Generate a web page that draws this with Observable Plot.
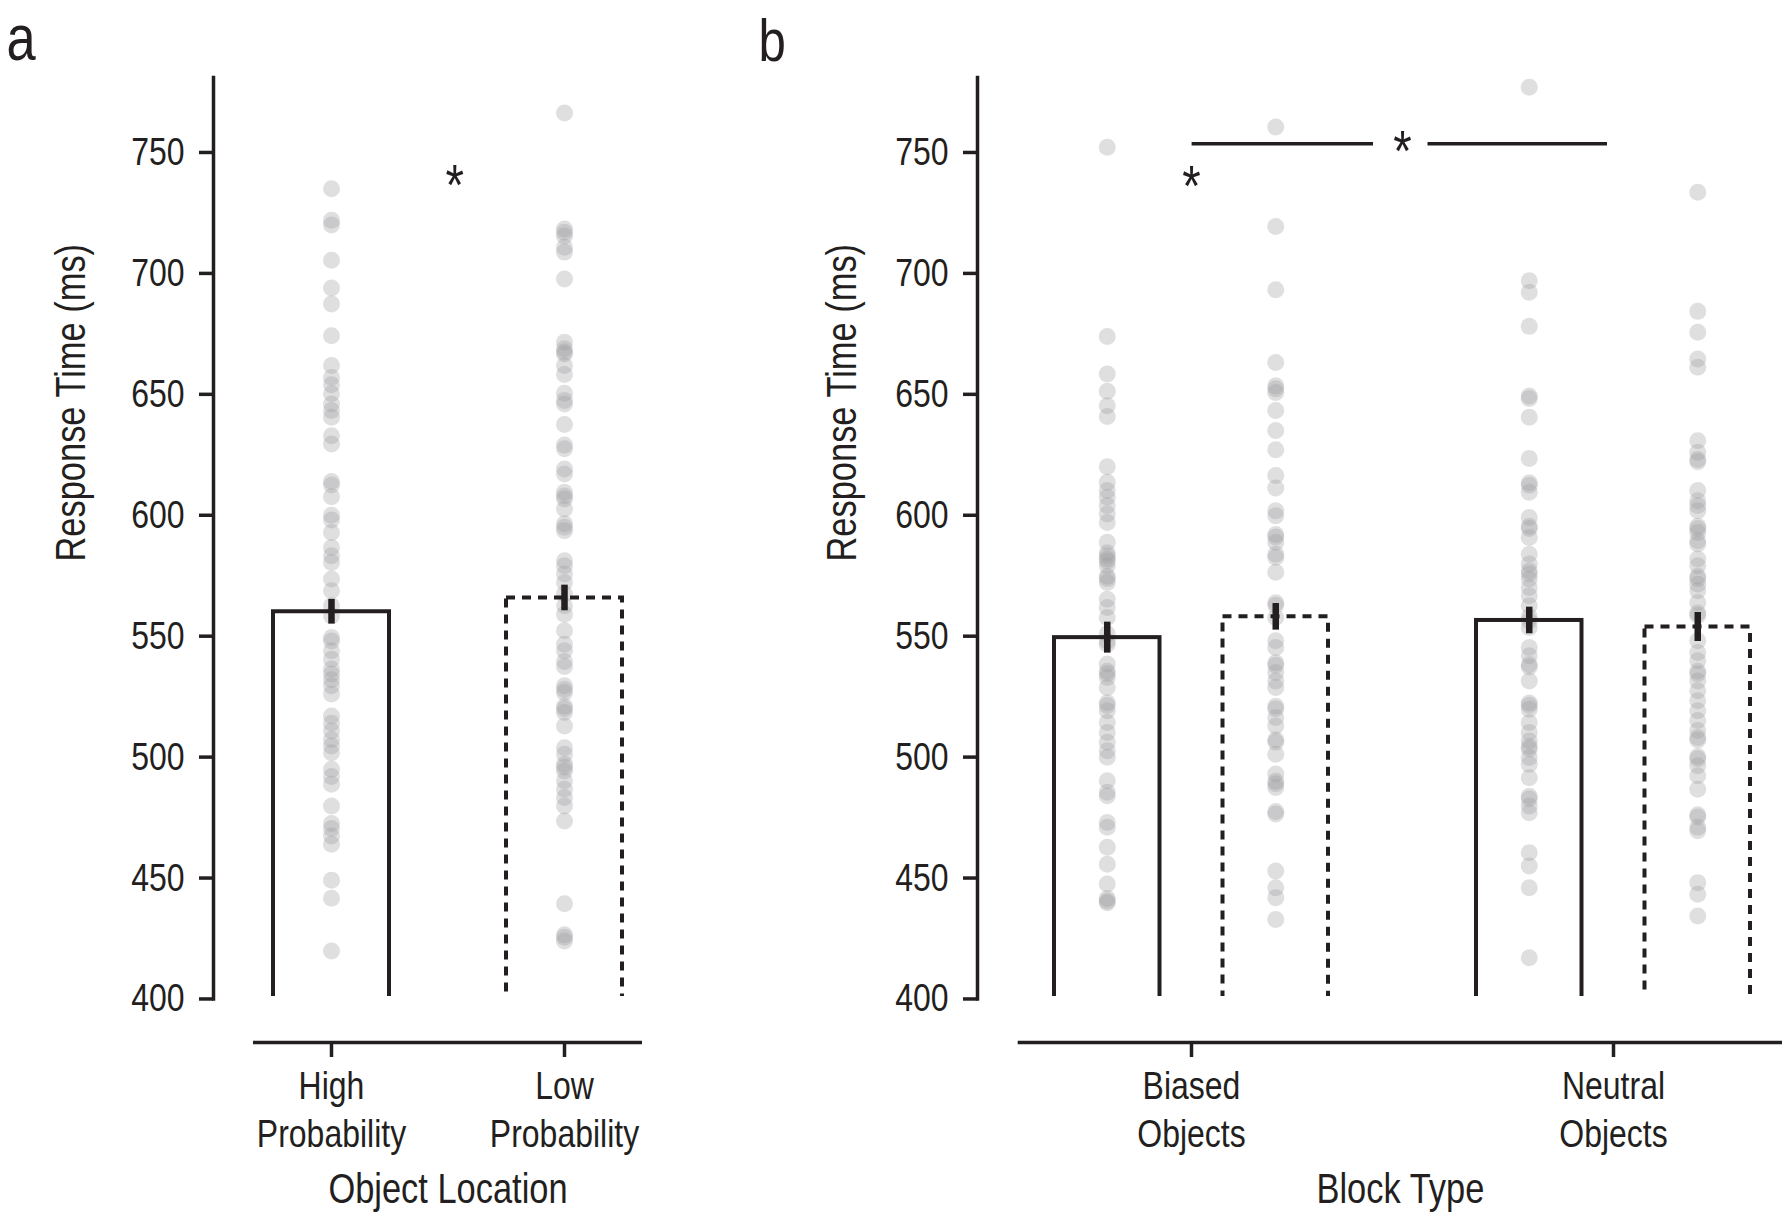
<!DOCTYPE html>
<html>
<head>
<meta charset="utf-8">
<script src="https://cdn.jsdelivr.net/npm/d3@7"></script>
<script src="https://cdn.jsdelivr.net/npm/@observablehq/plot@0.6"></script>
<style>
  html, body { margin: 0; padding: 0; background: #fff; }
  #wrap { position: relative; width: 1788px; height: 1216px; overflow: hidden; background: #fff; }
  #wrap svg { position: absolute; top: 0; overflow: visible; }
</style>
</head>
<body>
<div id="wrap"></div>
<script>
// ---------- data ----------
const yTicks = [400, 450, 500, 550, 600, 650, 700, 750];

// Panel a: Object Location
const locCategories = ["High Probability", "Low Probability"];
const locTickLabels = ["High\nProbability", "Low\nProbability"];
const locMeans = [560.1, 565.8];
const locSE = [5.1, 5.3];
const highProbRT = [735.0, 722, 720, 705.4, 694.0, 687.4, 674.2, 661.9, 657, 654, 650.2, 646.0, 643.3, 640.5, 632.9, 629.5,
  614, 612.5, 607.7, 600, 598, 592.9, 586.7, 583.3, 580.5, 573.6, 568.8, 562.6, 558.4, 549.5, 548, 544.0, 540.5, 536.4,
  534.4, 532, 529.5, 526.1, 517.0, 514, 510.8, 507.3, 504.6, 501.8, 495, 492, 488.8, 479.8, 472.5, 470.5, 467.4, 464.0,
  449.1, 441.6, 419.8];
const lowProbRT = [766.3, 718.4, 717.0, 715.5, 710.8, 708.8, 697.7, 671.5, 668.8, 667.5, 666.7, 661.9, 658.2, 650.4, 647.5,
  646, 637.5, 629, 627.5, 619.1, 617.1, 609.5, 608, 606.7, 602.6, 596.5, 595, 593.6, 581.2, 579.1, 575.7, 572.2, 567.4,
  562.6, 559.1, 552.2, 546.7, 544.0, 539.5, 537.5, 529.5, 528, 526.7, 521, 520, 518.4, 512.9, 503.9, 501.2, 497, 495.8,
  494.3, 490.2, 486.7, 483.3, 479.8, 473.6, 439.4, 426.5, 425.5, 424.0];
const sigA = [{label: "*", rt: 739.5}];

// Panel b: Block Type
const blockTypes = ["Biased Objects", "Neutral Objects"];
const blockTickLabels = ["Biased\nObjects", "Neutral\nObjects"];
const blockMeansHigh = [549.4, 556.5];
const blockSEHigh = [6.4, 5.5];
const blockMeansLow = [558.0, 553.8];
const blockSELow = [5.5, 6.0];
const biasedHighRT = [752.2, 673.9, 658.4, 651.3, 645.3, 640.8, 620.1, 613.6, 610.2, 607.4, 604.0, 600.5, 597.0, 588.8,
  584.5, 583.3, 581.9, 581, 579.1, 574.8, 573.8, 572.2, 565.3, 561.9, 557.7, 551, 548, 546.7, 538.5, 535.5, 534.5, 532.9,
  528.8, 522.5, 521.3, 519.2, 514.3, 510.2, 506.1, 502.6, 499.9, 490.2, 485.5, 484, 473.0, 471.0, 462.7, 455.7, 447.5,
  441.5, 440.5, 439.8];
const biasedLowRT = [760.5, 719.4, 693.2, 663.2, 653.5, 652.3, 650.8, 643.3, 635.0, 627.1, 616.4, 611.3, 601.9, 599.8,
  592, 591, 588.8, 583.9, 582.6, 576.4, 563.8, 562.8, 557.7, 548.1, 545.3, 539, 538, 535.0, 531.5, 528.8, 521, 520, 516.4,
  512.9, 507.2, 506.2, 501.2, 493.0, 490, 489, 487.4, 477.5, 476.5, 452.9, 446.0, 441.9, 432.9];
const neutralHighRT = [777.0, 697.0, 692.2, 678.1, 649.3, 648.3, 640.5, 623.5, 613.4, 612.4, 609.5, 599.1, 595.5, 594.5,
  590.8, 583.9, 579.8, 577, 575.8, 573.6, 570.1, 566.7, 562.6, 558, 556.4, 553.6, 545.3, 541.9, 538.3, 537.3, 531.5, 522.4,
  521.4, 519.8, 514.3, 510.2, 506.7, 504.4, 503.4, 499.8, 497.0, 491.5, 483.8, 482.8, 479.8, 477.0, 460.5, 455.0, 446.0,
  417.0];
const neutralLowRT = [733.6, 684.3, 675.7, 664.6, 661.2, 630.8, 626.0, 623.1, 622.1, 610.2, 606.0, 604.0, 601.9, 595.5,
  594.5, 592.9, 589.5, 588.1, 581.9, 579.1, 574.8, 573.8, 571.5, 568.8, 563.9, 559.6, 558.6, 548.1, 543.3, 539.8, 535.5,
  534.5, 531.5, 527.4, 523.3, 519.2, 515.1, 511.0, 508.1, 507.1, 500.3, 499.3, 496.4, 492.3, 486.7, 476.2, 475.2, 471.0,
  469.6, 448.1, 443.3, 434.3];
const bracketB = [753.6];
const sigBTop = [{label: "*", rt: 753.6}];
const sigBBiased = [{block: "Biased Objects", label: "*", rt: 739.2}];

// ---------- styling ----------
const FONT = '"Liberation Sans", Arial, sans-serif';
const NARROW = 0.82;            // horizontal condensing of all text
const INK = "#231f20";
const DOT = "#9a9aa0";
const DOT_OP = 0.32;
const SW = 3.5;
const BAR_SW = 4;
const DASH = "9,7";
const Y_DOMAIN = [382, 781];
const TICK_FS = 39, TITLE_FS = 42, STAR_FS = 58, STAR_DY = 9;

// Condense text horizontally about each text's own anchor point (y offsets untouched).
function condense(svg) {
  svg.querySelectorAll("text").forEach(el => {
    let t = el.getAttribute("transform") || "";
    const xa = el.getAttribute("x");
    if (xa !== null && /^-?[\d.]+$/.test(xa.trim())) {
      el.removeAttribute("x");
      t = `${t} translate(${+xa},0)`;
    }
    el.setAttribute("transform", `${t} scale(${NARROW},1)`);
  });
  return svg;
}

// ---------- panel a ----------
const dotsA = [
  ...highProbRT.map(rt => ({loc: locCategories[0], rt})),
  ...lowProbRT.map(rt => ({loc: locCategories[1], rt}))
];
const barsA = locCategories.map((loc, i) => ({loc, mean: locMeans[i], se: locSE[i]}));

const plotA = Plot.plot({
  width: 700, height: 1216,
  marginLeft: 213, marginRight: 58, marginTop: 77, marginBottom: 174,
  style: {fontFamily: FONT, fontSize: "39px", color: INK, background: "transparent", overflow: "visible"},
  x: {type: "band", domain: locCategories, insetLeft: 40, paddingInner: 0.5032, paddingOuter: 0.0846, align: 0.5, axis: null},
  y: {domain: Y_DOMAIN, axis: null},
  marks: [
    Plot.dot(dotsA, {x: "loc", y: "rt", r: 8.5, fill: DOT, fillOpacity: DOT_OP, stroke: null}),
    Plot.barY(barsA.filter((d, i) => i === 0), {x: "loc", y1: 400, y2: "mean", fill: "none", stroke: INK, strokeWidth: BAR_SW}),
    Plot.barY(barsA.filter((d, i) => i === 1), {x: "loc", y1: 400, y2: "mean", fill: "none", stroke: INK, strokeWidth: BAR_SW, strokeDasharray: DASH}),
    Plot.ruleY([400], {stroke: "white", strokeWidth: 6, insetLeft: 20}),
    Plot.ruleX(barsA, {x: "loc", y1: d => d.mean - d.se, y2: d => d.mean + d.se, stroke: INK, strokeWidth: 6.5}),
    Plot.frame({anchor: "left", insetBottom: 43.5, stroke: INK, strokeWidth: SW}),
    Plot.ruleY([Y_DOMAIN[0]], {insetLeft: 40, stroke: INK, strokeWidth: SW}),
    Plot.axisY(yTicks, {tickSize: 14, tickPadding: 15, stroke: INK, strokeWidth: SW, fontSize: TICK_FS, label: null}),
    Plot.axisX({tickSize: 15, tickPadding: 7, stroke: INK, strokeWidth: SW, fontSize: TICK_FS, lineHeight: 1.24,
      tickFormat: d => locTickLabels[locCategories.indexOf(d)], label: null}),
    Plot.text(sigA, {y: "rt", text: "label", frameAnchor: "middle", dx: 26.8, dy: STAR_DY, fontSize: STAR_FS, lineAnchor: "middle"}),
    Plot.text(["Response Time (ms)"], {text: d => d, frameAnchor: "left", rotate: -90, dx: -142, dy: 1.5, fontSize: TITLE_FS, lineAnchor: "middle"}),
    Plot.text(["Object Location"], {text: d => d, frameAnchor: "bottom", dx: 20, dy: 147, fontSize: TITLE_FS, lineAnchor: "middle"}),
    Plot.text(["a"], {text: d => d, frameAnchor: "top-left", dx: -207, dy: -37.5, fontSize: 64, textAnchor: "start", lineAnchor: "middle"})
  ]
});
plotA.style.left = "0px";
condense(plotA);

// ---------- panel b ----------
const dotsBHigh = [
  ...biasedHighRT.map(rt => ({block: blockTypes[0], rt})),
  ...neutralHighRT.map(rt => ({block: blockTypes[1], rt}))
];
const dotsBLow = [
  ...biasedLowRT.map(rt => ({block: blockTypes[0], rt})),
  ...neutralLowRT.map(rt => ({block: blockTypes[1], rt}))
];
const barsBHigh = blockTypes.map((block, i) => ({block, mean: blockMeansHigh[i], se: blockSEHigh[i]}));
const barsBLow = blockTypes.map((block, i) => ({block, mean: blockMeansLow[i], se: blockSELow[i]}));
const OFF = 84.25, INS = 168.5;

const plotB = Plot.plot({
  width: 1088, height: 1216,
  marginLeft: 277, marginRight: 6, marginTop: 77, marginBottom: 174,
  style: {fontFamily: FONT, fontSize: "39px", color: INK, background: "transparent", overflow: "visible"},
  x: {type: "band", domain: blockTypes, insetLeft: 40.7, paddingInner: 0.3503, paddingOuter: 0.0797, align: 0.528, axis: null},
  y: {domain: Y_DOMAIN, axis: null},
  marks: [
    Plot.dot(dotsBHigh, {x: "block", y: "rt", dx: -OFF, r: 8.5, fill: DOT, fillOpacity: DOT_OP, stroke: null}),
    Plot.dot(dotsBLow, {x: "block", y: "rt", dx: OFF, r: 8.5, fill: DOT, fillOpacity: DOT_OP, stroke: null}),
    Plot.barY(barsBHigh, {x: "block", y1: 400, y2: "mean", insetRight: INS, fill: "none", stroke: INK, strokeWidth: BAR_SW}),
    Plot.barY(barsBLow, {x: "block", y1: 400, y2: "mean", insetLeft: INS, fill: "none", stroke: INK, strokeWidth: BAR_SW, strokeDasharray: DASH}),
    Plot.ruleY([400], {stroke: "white", strokeWidth: 6, insetLeft: 20}),
    Plot.ruleX(barsBHigh, {x: "block", y1: d => d.mean - d.se, y2: d => d.mean + d.se, dx: -OFF, stroke: INK, strokeWidth: 6.5}),
    Plot.ruleX(barsBLow, {x: "block", y1: d => d.mean - d.se, y2: d => d.mean + d.se, dx: OFF, stroke: INK, strokeWidth: 6.5}),
    Plot.ruleY(bracketB, {insetLeft: 214.6, insetRight: 409, stroke: INK, strokeWidth: SW}),
    Plot.ruleY(bracketB, {insetLeft: 450.5, insetRight: 175, stroke: INK, strokeWidth: SW}),
    Plot.text(sigBTop, {y: "rt", text: "label", frameAnchor: "middle", dx: 22.5, dy: STAR_DY, fontSize: STAR_FS, lineAnchor: "middle"}),
    Plot.text(sigBBiased, {x: "block", y: "rt", text: "label", dy: STAR_DY, fontSize: STAR_FS, lineAnchor: "middle"}),
    Plot.frame({anchor: "left", insetBottom: 43.5, stroke: INK, strokeWidth: SW}),
    Plot.ruleY([Y_DOMAIN[0]], {insetLeft: 40.7, stroke: INK, strokeWidth: SW}),
    Plot.axisY(yTicks, {tickSize: 14, tickPadding: 15, stroke: INK, strokeWidth: SW, fontSize: TICK_FS, label: null}),
    Plot.axisX({tickSize: 15, tickPadding: 7, stroke: INK, strokeWidth: SW, fontSize: TICK_FS, lineHeight: 1.24,
      tickFormat: d => blockTickLabels[blockTypes.indexOf(d)], label: null}),
    Plot.text(["Response Time (ms)"], {text: d => d, frameAnchor: "left", rotate: -90, dx: -135, dy: 1.5, fontSize: TITLE_FS, lineAnchor: "middle"}),
    Plot.text(["Block Type"], {text: d => d, frameAnchor: "bottom", dx: 20.4, dy: 147, fontSize: TITLE_FS, lineAnchor: "middle"}),
    Plot.text(["b"], {text: d => d, frameAnchor: "top-left", dx: -219, dy: -36.2, fontSize: 60, textAnchor: "start", lineAnchor: "middle"})
  ]
});
plotB.style.left = "700px";
condense(plotB);

const wrap = document.getElementById("wrap");
wrap.appendChild(plotA);
wrap.appendChild(plotB);
</script>
</body>
</html>
